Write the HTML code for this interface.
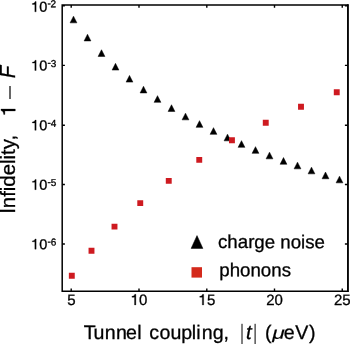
<!DOCTYPE html>
<html><head><meta charset="utf-8"><style>
html,body{margin:0;padding:0;background:#fff;}
svg{display:block;will-change:transform;}
text{font-family:"Liberation Sans",sans-serif;fill:#000;white-space:pre;stroke:#000;stroke-width:0.3px;}
</style></head><body>
<svg width="350" height="344" viewBox="0 0 350 344">
<path d="M347.6 291.15H62.2V5.05H347.6" fill="none" stroke="#000" stroke-width="1.5" stroke-linejoin="miter" stroke-linecap="square"/>
<path d="M347.95000000000005 4.3V291.9" fill="none" stroke="#000" stroke-width="1.85"/>
<path d="M71.2 291.15V288.45M71.2 5.05V7.75M139.0 291.15V288.45M139.0 5.05V7.75M206.8 291.15V288.45M206.8 5.05V7.75M274.5 291.15V288.45M274.5 5.05V7.75M342.25 291.15V288.45M342.25 5.05V7.75M62.2 5.7H64.9M347.6 5.7H344.90000000000003M62.2 65.4H64.9M347.6 65.4H344.90000000000003M62.2 125.2H64.9M347.6 125.2H344.90000000000003M62.2 184.55H64.9M347.6 184.55H344.90000000000003M62.2 244.05H64.9M347.6 244.05H344.90000000000003" stroke="#000" stroke-width="1.4" fill="none"/>
<path d="M73.5 16.15L76.9 22.85L70.1 22.85ZM87.5 34.25L90.9 40.95L84.1 40.95ZM101.5 49.75L104.9 56.45L98.1 56.45ZM115.5 63.35L118.9 70.05L112.1 70.05ZM129.5 75.4L132.9 82.1L126.1 82.1ZM143.5 86.25L146.9 92.94999999999999L140.1 92.94999999999999ZM157.5 95.65L160.9 102.35L154.1 102.35ZM171.5 104.75L174.9 111.44999999999999L168.1 111.44999999999999ZM185.5 113.15L188.9 119.85L182.1 119.85ZM199.5 120.65L202.9 127.35L196.1 127.35ZM213.5 127.65L216.9 134.35L210.1 134.35ZM227.5 134.15L230.9 140.85L224.1 140.85ZM241.5 140.65L244.9 147.35L238.1 147.35ZM255.5 146.65L258.9 153.35L252.1 153.35ZM269.5 152.15L272.9 158.85L266.1 158.85ZM283.5 157.55L286.9 164.25L280.1 164.25ZM297.5 162.15L300.9 168.85L294.1 168.85ZM311.5 167.15L314.9 173.85L308.1 173.85ZM325.5 172.05L328.9 178.75L322.1 178.75ZM339.5 176.15L342.9 182.85L336.1 182.85Z" fill="#000" stroke="#000" stroke-width="0.5" stroke-linejoin="round"/>
<path d="M68.85 272.75h5.9v5.9h-5.9ZM88.55 247.80h5.9v5.9h-5.9ZM111.55 223.65h5.9v5.9h-5.9ZM137.30 200.15h5.9v5.9h-5.9ZM165.80 177.95h5.9v5.9h-5.9ZM196.30 156.95h5.9v5.9h-5.9ZM229.00 137.35h5.9v5.9h-5.9ZM262.80 119.80h5.9v5.9h-5.9ZM298.05 103.80h5.9v5.9h-5.9ZM333.80 89.30h5.9v5.9h-5.9Z" fill="#ce1a20"/>
<path d="M197 235.6L202.9 248.4L191.1 248.4Z" fill="#000" stroke="#000" stroke-width="0.5" stroke-linejoin="round"/>
<rect x="191.5" y="267.2" width="10.5" height="10.4" fill="#d4291b"/>
<path d="M242 323.8V344M255.1 323.8V344" stroke="#000" stroke-width="1.0"/>
<path d="M10 86V98.9" stroke="#000" stroke-width="1.2"/>
<path transform="translate(31.20 11.80) scale(14.5)" d="M0.341 0L0.341 -0.703L0.268 -0.703C0.243 -0.607 0.172 -0.575 0.078 -0.57L0.078 -0.51L0.251 -0.51L0.251 0Z" stroke="#000" stroke-width="0.0207"/>
<text x="39.26" y="11.80" font-size="14.5" transform="rotate(0.05 39.3 11.8)">0</text>
<text x="47.60" y="6.50" font-size="10" transform="rotate(0.05 47.6 6.5)">-</text>
<text x="50.63" y="7.30" font-size="10" transform="rotate(0.05 50.6 7.3)">2</text>
<path transform="translate(31.20 70.50) scale(14.5)" d="M0.341 0L0.341 -0.703L0.268 -0.703C0.243 -0.607 0.172 -0.575 0.078 -0.57L0.078 -0.51L0.251 -0.51L0.251 0Z" stroke="#000" stroke-width="0.0207"/>
<text x="39.26" y="70.50" font-size="14.5" transform="rotate(0.05 39.3 70.5)">0</text>
<text x="47.60" y="66.10" font-size="10" transform="rotate(0.05 47.6 66.1)">-</text>
<text x="50.63" y="66.90" font-size="10" transform="rotate(0.05 50.6 66.9)">3</text>
<path transform="translate(31.20 130.30) scale(14.5)" d="M0.341 0L0.341 -0.703L0.268 -0.703C0.243 -0.607 0.172 -0.575 0.078 -0.57L0.078 -0.51L0.251 -0.51L0.251 0Z" stroke="#000" stroke-width="0.0207"/>
<text x="39.26" y="130.30" font-size="14.5" transform="rotate(0.05 39.3 130.3)">0</text>
<text x="47.60" y="125.90" font-size="10" transform="rotate(0.05 47.6 125.9)">-</text>
<text x="50.63" y="126.70" font-size="10" transform="rotate(0.05 50.6 126.7)">4</text>
<path transform="translate(31.20 189.65) scale(14.5)" d="M0.341 0L0.341 -0.703L0.268 -0.703C0.243 -0.607 0.172 -0.575 0.078 -0.57L0.078 -0.51L0.251 -0.51L0.251 0Z" stroke="#000" stroke-width="0.0207"/>
<text x="39.26" y="189.65" font-size="14.5" transform="rotate(0.05 39.3 189.7)">0</text>
<text x="47.60" y="185.25" font-size="10" transform="rotate(0.05 47.6 185.3)">-</text>
<text x="50.63" y="186.05" font-size="10" transform="rotate(0.05 50.6 186.1)">5</text>
<path transform="translate(31.20 249.15) scale(14.5)" d="M0.341 0L0.341 -0.703L0.268 -0.703C0.243 -0.607 0.172 -0.575 0.078 -0.57L0.078 -0.51L0.251 -0.51L0.251 0Z" stroke="#000" stroke-width="0.0207"/>
<text x="39.26" y="249.15" font-size="14.5" transform="rotate(0.05 39.3 249.2)">0</text>
<text x="47.60" y="244.75" font-size="10" transform="rotate(0.05 47.6 244.8)">-</text>
<text x="50.63" y="245.55" font-size="10" transform="rotate(0.05 50.6 245.6)">6</text>
<text x="67.13" y="304.90" font-size="15" transform="rotate(0.05 67.1 304.9)">5</text>
<path transform="translate(130.76 304.90) scale(15)" d="M0.341 0L0.341 -0.703L0.268 -0.703C0.243 -0.607 0.172 -0.575 0.078 -0.57L0.078 -0.51L0.251 -0.51L0.251 0Z" stroke="#000" stroke-width="0.0200"/>
<text x="139.10" y="304.90" font-size="15" transform="rotate(0.05 139.1 304.9)">0</text>
<path transform="translate(198.56 304.90) scale(15)" d="M0.341 0L0.341 -0.703L0.268 -0.703C0.243 -0.607 0.172 -0.575 0.078 -0.57L0.078 -0.51L0.251 -0.51L0.251 0Z" stroke="#000" stroke-width="0.0200"/>
<text x="206.90" y="304.90" font-size="15" transform="rotate(0.05 206.9 304.9)">5</text>
<text x="266.26" y="304.90" font-size="15" transform="rotate(0.05 266.3 304.9)">20</text>
<text x="334.01" y="304.90" font-size="15" transform="rotate(0.05 334.0 304.9)">25</text>
<text x="218.00" y="248.10" font-size="18.7" transform="rotate(0.05 218.0 248.1)">charge noise</text>
<text x="219.30" y="276.30" font-size="18.7" transform="rotate(0.05 219.3 276.3)">phonons</text>
<text x="83.86 93.53 104.75 116.00 125.97 137.18 141.53 149.37 159.48 170.53 181.24 191.78 196.39 201.70 212.68 223.54" y="339.00" font-size="19.6" transform="rotate(0.05 83.9 339.0)">Tunnel coupling,</text>
<text x="245.90" y="339.00" font-size="20.3" transform="rotate(0.05 245.9 339.0)" font-family="Liberation Serif" font-style="italic">t</text>
<text x="265.00" y="339.00" font-size="19.6" transform="rotate(0.05 265.0 339.0)">(</text>
<text x="0" y="0" font-size="19.6" transform="translate(272.2 338.7) scale(1.17 0.89) rotate(0.05)" font-family="Liberation Serif" font-style="italic" style="stroke-width:0.15px">μ</text>
<text x="283.80" y="339.00" font-size="19.6" transform="rotate(0.05 283.8 339.0)">e</text>
<text x="295.20" y="339.00" font-size="19.6" transform="rotate(0.05 295.2 339.0)">V</text>
<text x="309.00" y="339.00" font-size="19.6" transform="rotate(0.05 309.0 339.0)">)</text>
<g transform="translate(15.3 212) rotate(-90)"><text x="-1.85" y="0" font-size="20.4" transform="scale(1 1.08)">I</text><text x="3.82" y="0" font-size="20.4">nfidelity,</text><path transform="translate(95.97 0.00) scale(20.4)" d="M0.341 0L0.341 -0.703L0.268 -0.703C0.243 -0.607 0.172 -0.575 0.078 -0.57L0.078 -0.51L0.251 -0.51L0.251 0Z" stroke="#000" stroke-width="0.0147"/><text x="133.78" y="0" font-size="20.4" font-style="italic" transform="scale(1 1.09)">F</text></g>
</svg>
</body></html>
